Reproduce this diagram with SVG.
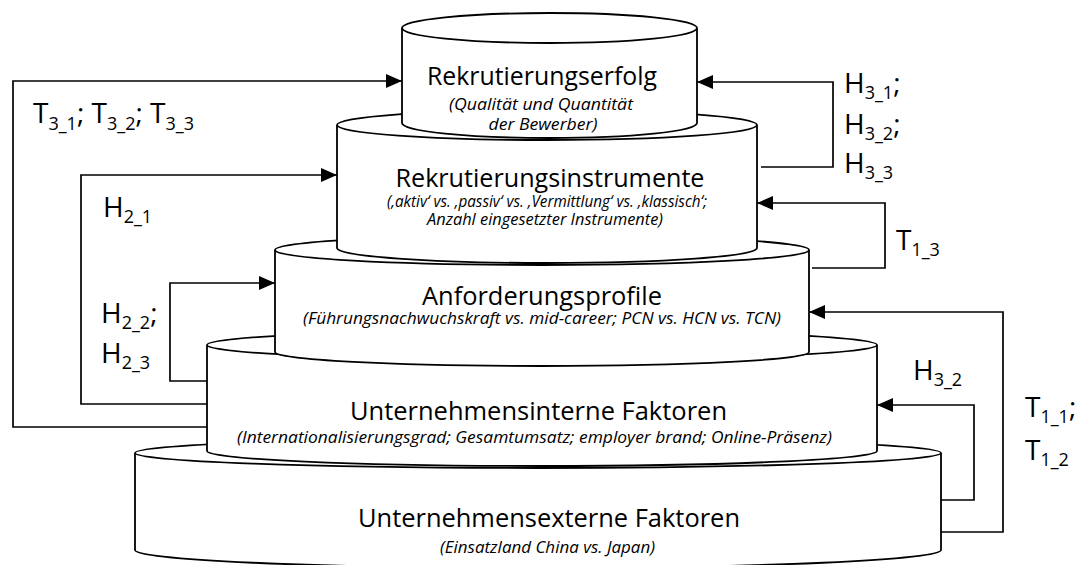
<svg xmlns="http://www.w3.org/2000/svg" width="1090" height="565" viewBox="0 0 1090 565">
  <style>
    .can { fill: #ffffff; stroke: #000000; stroke-width: 1.8; }
    .wire { fill: none; stroke: #000000; stroke-width: 1.7; marker-end: url(#head); }
    .title { font-family: "Open Sans", Lato, sans-serif; font-size: 26px; fill: #000; text-anchor: middle; }
    .note { font-family: "Open Sans", Lato, sans-serif; font-style: italic; font-size: 16.5px; fill: #000; text-anchor: middle; }
    .lbl { font-family: "Open Sans", Lato, sans-serif; font-size: 28px; fill: #000; }
    .sub { font-size: 18px; }
  </style>
  <defs>
    <marker id="head" markerUnits="userSpaceOnUse" markerWidth="16" markerHeight="14" refX="16" refY="7" orient="auto">
      <path d="M0,0 L16,7 L0,14 Z" fill="#000"/>
    </marker>
  </defs>

  <!-- stacked cans, drawn from the bottom layer upwards -->
  <g id="node-extern">
    <path class="can" d="M135,453 V550 A403,18 0 0 0 941,550 V453"/>
    <ellipse class="can" cx="538" cy="453" rx="403" ry="15"/>
    <text class="title" x="549" y="527" textLength="382" lengthAdjust="spacingAndGlyphs">Unternehmensexterne Faktoren</text>
    <text class="note" x="547.5" y="553" textLength="215" lengthAdjust="spacingAndGlyphs">(Einsatzland China vs. Japan)</text>
  </g>

  <g id="node-intern">
    <path class="can" d="M207,345 V451 A335,15 0 0 0 877,451 V345"/>
    <ellipse class="can" cx="542" cy="345" rx="335" ry="15"/>
    <text class="title" x="538.5" y="420" textLength="377" lengthAdjust="spacingAndGlyphs">Unternehmensinterne Faktoren</text>
    <text class="note" x="534.5" y="443" textLength="595" lengthAdjust="spacingAndGlyphs">(Internationalisierungsgrad; Gesamtumsatz; employer brand; Online-Präsenz)</text>
  </g>

  <g id="node-profile">
    <path class="can" d="M275,250 V352 A267,14 0 0 0 809,352 V250"/>
    <ellipse class="can" cx="542" cy="250" rx="267" ry="15"/>
    <text class="title" x="542" y="305" textLength="240" lengthAdjust="spacingAndGlyphs">Anforderungsprofile</text>
    <text class="note" x="542" y="324" textLength="478" lengthAdjust="spacingAndGlyphs">(Führungsnachwuchskraft vs. mid-career; PCN vs. HCN vs. TCN)</text>
  </g>

  <g id="node-instrumente">
    <path class="can" d="M337,125 V248 A210,15 0 0 0 757,248 V125"/>
    <ellipse class="can" cx="547" cy="125" rx="210" ry="15"/>
    <text class="title" x="550" y="187" textLength="309" lengthAdjust="spacingAndGlyphs">Rekrutierungsinstrumente</text>
    <text class="note" x="547" y="207" textLength="320" lengthAdjust="spacingAndGlyphs">(‚aktiv‘ vs. ‚passiv‘ vs. ‚Vermittlung‘ vs. ‚klassisch‘;</text>
    <text class="note" x="545" y="225" textLength="236" lengthAdjust="spacingAndGlyphs">Anzahl eingesetzter Instrumente)</text>
  </g>

  <g id="node-erfolg">
    <path class="can" d="M402,28 V123 A147.5,15 0 0 0 697,123 V28"/>
    <ellipse class="can" cx="549.5" cy="28" rx="147.5" ry="15"/>
    <text class="title" x="542" y="85" textLength="230" lengthAdjust="spacingAndGlyphs">Rekrutierungserfolg</text>
    <text class="note" x="541" y="110" textLength="184" lengthAdjust="spacingAndGlyphs">(Qualität und Quantität</text>
    <text class="note" x="543" y="130" textLength="109" lengthAdjust="spacingAndGlyphs">der Bewerber)</text>
  </g>

  <!-- elbow connectors between the layers -->
  <g id="connectors">
    <path class="wire" d="M207,427 H13 V81 H402"/>
    <path class="wire" d="M207,404 H81 V175 H337"/>
    <path class="wire" d="M207,381 H170 V283 H275"/>
    <path class="wire" d="M761,167 H833 V82 H697"/>
    <path class="wire" d="M812,268 H885 V203 H757"/>
    <path class="wire" d="M941,532 H1003 V312 H809"/>
    <path class="wire" d="M941,500 H974 V405 H877"/>
  </g>

  <!-- hypothesis labels -->
  <g id="labels">
    <text class="lbl" x="33" y="123">T<tspan class="sub" dy="7">3_1</tspan><tspan dy="-7">; T</tspan><tspan class="sub" dy="7">3_2</tspan><tspan dy="-7">; T</tspan><tspan class="sub" dy="7">3_3</tspan></text>
    <text class="lbl" x="103" y="217">H<tspan class="sub" dy="6">2_1</tspan></text>
    <text class="lbl" x="101" y="323">H<tspan class="sub" dy="6">2_2</tspan><tspan dy="-6">;</tspan></text>
    <text class="lbl" x="101" y="363">H<tspan class="sub" dy="6">2_3</tspan></text>
    <text class="lbl" x="844" y="93">H<tspan class="sub" dy="6">3_1</tspan><tspan dy="-6">;</tspan></text>
    <text class="lbl" x="844" y="134">H<tspan class="sub" dy="6">3_2</tspan><tspan dy="-6">;</tspan></text>
    <text class="lbl" x="844" y="173">H<tspan class="sub" dy="6">3_3</tspan></text>
    <text class="lbl" x="896" y="250">T<tspan class="sub" dy="6">1_3</tspan></text>
    <text class="lbl" x="913" y="380">H<tspan class="sub" dy="6">3_2</tspan></text>
    <text class="lbl" x="1025" y="417">T<tspan class="sub" dy="6">1_1</tspan><tspan dy="-6">;</tspan></text>
    <text class="lbl" x="1025" y="460">T<tspan class="sub" dy="6">1_2</tspan></text>
  </g>
</svg>
